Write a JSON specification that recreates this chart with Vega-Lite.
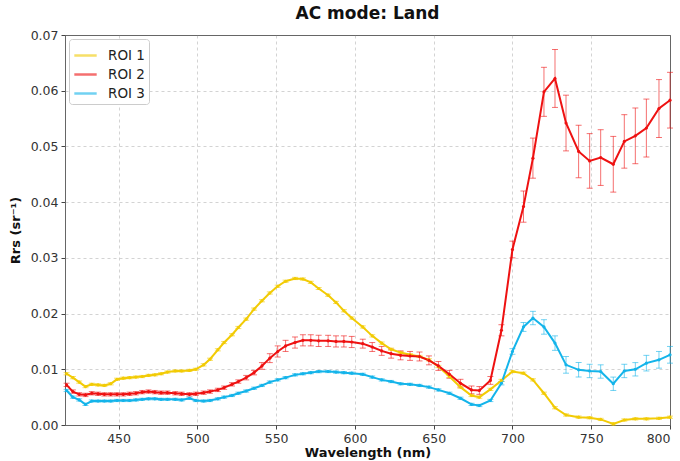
{
  "$schema": "https://vega.github.io/schema/vega-lite/v6.json",
  "width": 605,
  "height": 390,
  "autosize": {"type": "none"},
  "padding": {"left": 65, "top": 35, "right": 10, "bottom": 36},
  "background": "white",
  "config": {
    "font": "DejaVu Sans",
    "view": {"stroke": "#666666", "strokeWidth": 1},
    "axis": {"labelFont": "DejaVu Sans", "titleFont": "DejaVu Sans", "labelFontSize": 12.5, "labelColor": "#333333", "titleFontSize": 13, "titleFontWeight": "bold", "titleColor": "#111111", "grid": true, "gridWidth": 0.8, "domain": false, "tickColor": "#444444", "tickSize": 4, "labelPadding": 3}
  },
  "title": {"text": "AC mode: Land", "fontSize": 17, "fontWeight": "bold", "font": "DejaVu Sans", "color": "#111111", "anchor": "middle", "offset": 6},
  "data": {"values": [
{"roi":"ROI 1","wl":417,"v":0.0092,"e":0.0002},{"roi":"ROI 1","wl":421,"v":0.0085,"e":0.0002},{"roi":"ROI 1","wl":425,"v":0.0077,"e":0.0002},{"roi":"ROI 1","wl":429,"v":0.0069,"e":0.0002},{"roi":"ROI 1","wl":433,"v":0.0073,"e":0.0002},{"roi":"ROI 1","wl":437,"v":0.0072,"e":0.0002},{"roi":"ROI 1","wl":441,"v":0.0071,"e":0.0002},{"roi":"ROI 1","wl":445,"v":0.0074,"e":0.0002},{"roi":"ROI 1","wl":449,"v":0.0082,"e":0.0002},{"roi":"ROI 1","wl":453,"v":0.0084,"e":0.0002},{"roi":"ROI 1","wl":457,"v":0.0085,"e":0.0002},{"roi":"ROI 1","wl":461,"v":0.0086,"e":0.0002},{"roi":"ROI 1","wl":465,"v":0.0087,"e":0.0002},{"roi":"ROI 1","wl":469,"v":0.0089,"e":0.0002},{"roi":"ROI 1","wl":473,"v":0.0090,"e":0.0002},{"roi":"ROI 1","wl":477,"v":0.0092,"e":0.0002},{"roi":"ROI 1","wl":481,"v":0.0095,"e":0.0002},{"roi":"ROI 1","wl":486,"v":0.0097,"e":0.0002},{"roi":"ROI 1","wl":490,"v":0.0097,"e":0.0002},{"roi":"ROI 1","wl":495,"v":0.0098,"e":0.0002},{"roi":"ROI 1","wl":499,"v":0.0100,"e":0.0002},{"roi":"ROI 1","wl":504,"v":0.0108,"e":0.0002},{"roi":"ROI 1","wl":508,"v":0.0118,"e":0.0002},{"roi":"ROI 1","wl":513,"v":0.0135,"e":0.0002},{"roi":"ROI 1","wl":517,"v":0.0148,"e":0.0002},{"roi":"ROI 1","wl":522,"v":0.0162,"e":0.0002},{"roi":"ROI 1","wl":526,"v":0.0175,"e":0.0002},{"roi":"ROI 1","wl":531,"v":0.0190,"e":0.0002},{"roi":"ROI 1","wl":536,"v":0.0208,"e":0.0002},{"roi":"ROI 1","wl":541,"v":0.0223,"e":0.0002},{"roi":"ROI 1","wl":546,"v":0.0237,"e":0.0002},{"roi":"ROI 1","wl":551,"v":0.0249,"e":0.0002},{"roi":"ROI 1","wl":556,"v":0.0258,"e":0.0002},{"roi":"ROI 1","wl":562,"v":0.0263,"e":0.0002},{"roi":"ROI 1","wl":567,"v":0.0262,"e":0.0002},{"roi":"ROI 1","wl":572,"v":0.0256,"e":0.0002},{"roi":"ROI 1","wl":577,"v":0.0245,"e":0.0002},{"roi":"ROI 1","wl":583,"v":0.0233,"e":0.0002},{"roi":"ROI 1","wl":588,"v":0.0220,"e":0.0002},{"roi":"ROI 1","wl":593,"v":0.0205,"e":0.0002},{"roi":"ROI 1","wl":598,"v":0.0192,"e":0.0002},{"roi":"ROI 1","wl":605,"v":0.0176,"e":0.0002},{"roi":"ROI 1","wl":611,"v":0.0160,"e":0.0002},{"roi":"ROI 1","wl":617,"v":0.0147,"e":0.0002},{"roi":"ROI 1","wl":623,"v":0.0136,"e":0.0002},{"roi":"ROI 1","wl":629,"v":0.0130,"e":0.0002},{"roi":"ROI 1","wl":635,"v":0.0126,"e":0.0002},{"roi":"ROI 1","wl":641,"v":0.0123,"e":0.0002},{"roi":"ROI 1","wl":647,"v":0.0117,"e":0.0002},{"roi":"ROI 1","wl":653,"v":0.0105,"e":0.0002},{"roi":"ROI 1","wl":660,"v":0.0087,"e":0.0002},{"roi":"ROI 1","wl":667,"v":0.0068,"e":0.0002},{"roi":"ROI 1","wl":674,"v":0.0053,"e":0.0002},{"roi":"ROI 1","wl":679,"v":0.0050,"e":0.0002},{"roi":"ROI 1","wl":686,"v":0.0064,"e":0.0002},{"roi":"ROI 1","wl":693,"v":0.0080,"e":0.0002},{"roi":"ROI 1","wl":700,"v":0.0096,"e":0.0002},{"roi":"ROI 1","wl":707,"v":0.0093,"e":0.0002},{"roi":"ROI 1","wl":713,"v":0.0081,"e":0.0002},{"roi":"ROI 1","wl":720,"v":0.0057,"e":0.0002},{"roi":"ROI 1","wl":727,"v":0.0031,"e":0.0002},{"roi":"ROI 1","wl":734,"v":0.0018,"e":0.0002},{"roi":"ROI 1","wl":742,"v":0.0014,"e":0.0002},{"roi":"ROI 1","wl":749,"v":0.0013,"e":0.0002},{"roi":"ROI 1","wl":756,"v":0.0010,"e":0.0002},{"roi":"ROI 1","wl":764,"v":0.0002,"e":0.0002},{"roi":"ROI 1","wl":771,"v":0.0009,"e":0.0002},{"roi":"ROI 1","wl":778,"v":0.0011,"e":0.0002},{"roi":"ROI 1","wl":785,"v":0.0011,"e":0.0002},{"roi":"ROI 1","wl":793,"v":0.0012,"e":0.0002},{"roi":"ROI 1","wl":800,"v":0.0014,"e":0.0002},
{"roi":"ROI 2","wl":417,"v":0.0072,"e":0.0003},{"roi":"ROI 2","wl":421,"v":0.0060,"e":0.0003},{"roi":"ROI 2","wl":425,"v":0.0055,"e":0.0003},{"roi":"ROI 2","wl":429,"v":0.0054,"e":0.0003},{"roi":"ROI 2","wl":433,"v":0.0057,"e":0.0003},{"roi":"ROI 2","wl":437,"v":0.0056,"e":0.0003},{"roi":"ROI 2","wl":441,"v":0.0055,"e":0.0003},{"roi":"ROI 2","wl":445,"v":0.0055,"e":0.0003},{"roi":"ROI 2","wl":449,"v":0.0055,"e":0.0003},{"roi":"ROI 2","wl":453,"v":0.0055,"e":0.0003},{"roi":"ROI 2","wl":457,"v":0.0056,"e":0.0003},{"roi":"ROI 2","wl":461,"v":0.0057,"e":0.0003},{"roi":"ROI 2","wl":465,"v":0.0059,"e":0.0003},{"roi":"ROI 2","wl":469,"v":0.0060,"e":0.0003},{"roi":"ROI 2","wl":473,"v":0.0059,"e":0.0003},{"roi":"ROI 2","wl":477,"v":0.0058,"e":0.0003},{"roi":"ROI 2","wl":481,"v":0.0058,"e":0.0003},{"roi":"ROI 2","wl":486,"v":0.0057,"e":0.0003},{"roi":"ROI 2","wl":490,"v":0.0056,"e":0.0003},{"roi":"ROI 2","wl":495,"v":0.0055,"e":0.0003},{"roi":"ROI 2","wl":499,"v":0.0056,"e":0.0003},{"roi":"ROI 2","wl":504,"v":0.0058,"e":0.0003},{"roi":"ROI 2","wl":508,"v":0.0060,"e":0.0003},{"roi":"ROI 2","wl":513,"v":0.0063,"e":0.0003},{"roi":"ROI 2","wl":517,"v":0.0067,"e":0.0003},{"roi":"ROI 2","wl":522,"v":0.0073,"e":0.0003},{"roi":"ROI 2","wl":526,"v":0.0078,"e":0.0003},{"roi":"ROI 2","wl":531,"v":0.0085,"e":0.0004},{"roi":"ROI 2","wl":536,"v":0.0094,"e":0.0004},{"roi":"ROI 2","wl":541,"v":0.0106,"e":0.0006},{"roi":"ROI 2","wl":546,"v":0.0120,"e":0.0008},{"roi":"ROI 2","wl":551,"v":0.0132,"e":0.0010},{"roi":"ROI 2","wl":556,"v":0.0142,"e":0.0010},{"roi":"ROI 2","wl":562,"v":0.0148,"e":0.0010},{"roi":"ROI 2","wl":567,"v":0.0152,"e":0.0010},{"roi":"ROI 2","wl":572,"v":0.0152,"e":0.0010},{"roi":"ROI 2","wl":577,"v":0.0151,"e":0.0010},{"roi":"ROI 2","wl":583,"v":0.0151,"e":0.0010},{"roi":"ROI 2","wl":588,"v":0.0150,"e":0.0010},{"roi":"ROI 2","wl":593,"v":0.0150,"e":0.0010},{"roi":"ROI 2","wl":598,"v":0.0149,"e":0.0010},{"roi":"ROI 2","wl":605,"v":0.0146,"e":0.0008},{"roi":"ROI 2","wl":611,"v":0.0140,"e":0.0008},{"roi":"ROI 2","wl":617,"v":0.0133,"e":0.0008},{"roi":"ROI 2","wl":623,"v":0.0128,"e":0.0008},{"roi":"ROI 2","wl":629,"v":0.0125,"e":0.0008},{"roi":"ROI 2","wl":635,"v":0.0124,"e":0.0008},{"roi":"ROI 2","wl":641,"v":0.0123,"e":0.0008},{"roi":"ROI 2","wl":647,"v":0.0116,"e":0.0008},{"roi":"ROI 2","wl":653,"v":0.0106,"e":0.0008},{"roi":"ROI 2","wl":660,"v":0.0091,"e":0.0007},{"roi":"ROI 2","wl":667,"v":0.0075,"e":0.0007},{"roi":"ROI 2","wl":674,"v":0.0063,"e":0.0007},{"roi":"ROI 2","wl":679,"v":0.0062,"e":0.0007},{"roi":"ROI 2","wl":686,"v":0.0080,"e":0.0007},{"roi":"ROI 2","wl":693,"v":0.0170,"e":0.0010},{"roi":"ROI 2","wl":700,"v":0.0315,"e":0.0015},{"roi":"ROI 2","wl":707,"v":0.0392,"e":0.0028},{"roi":"ROI 2","wl":713,"v":0.0479,"e":0.0036},{"roi":"ROI 2","wl":720,"v":0.0598,"e":0.0044},{"roi":"ROI 2","wl":727,"v":0.0622,"e":0.0052},{"roi":"ROI 2","wl":734,"v":0.0542,"e":0.0050},{"roi":"ROI 2","wl":742,"v":0.0491,"e":0.0047},{"roi":"ROI 2","wl":749,"v":0.0474,"e":0.0049},{"roi":"ROI 2","wl":756,"v":0.0480,"e":0.0050},{"roi":"ROI 2","wl":764,"v":0.0468,"e":0.0050},{"roi":"ROI 2","wl":771,"v":0.0509,"e":0.0048},{"roi":"ROI 2","wl":778,"v":0.0519,"e":0.0050},{"roi":"ROI 2","wl":785,"v":0.0533,"e":0.0052},{"roi":"ROI 2","wl":793,"v":0.0568,"e":0.0052},{"roi":"ROI 2","wl":800,"v":0.0583,"e":0.0050},
{"roi":"ROI 3","wl":417,"v":0.0062,"e":0.0002},{"roi":"ROI 3","wl":421,"v":0.0050,"e":0.0002},{"roi":"ROI 3","wl":425,"v":0.0045,"e":0.0002},{"roi":"ROI 3","wl":429,"v":0.0037,"e":0.0002},{"roi":"ROI 3","wl":433,"v":0.0043,"e":0.0002},{"roi":"ROI 3","wl":437,"v":0.0043,"e":0.0002},{"roi":"ROI 3","wl":441,"v":0.0043,"e":0.0002},{"roi":"ROI 3","wl":445,"v":0.0043,"e":0.0002},{"roi":"ROI 3","wl":449,"v":0.0044,"e":0.0002},{"roi":"ROI 3","wl":453,"v":0.0044,"e":0.0002},{"roi":"ROI 3","wl":457,"v":0.0044,"e":0.0002},{"roi":"ROI 3","wl":461,"v":0.0045,"e":0.0002},{"roi":"ROI 3","wl":465,"v":0.0046,"e":0.0002},{"roi":"ROI 3","wl":469,"v":0.0047,"e":0.0002},{"roi":"ROI 3","wl":473,"v":0.0047,"e":0.0002},{"roi":"ROI 3","wl":477,"v":0.0046,"e":0.0002},{"roi":"ROI 3","wl":481,"v":0.0046,"e":0.0002},{"roi":"ROI 3","wl":486,"v":0.0046,"e":0.0002},{"roi":"ROI 3","wl":490,"v":0.0045,"e":0.0002},{"roi":"ROI 3","wl":495,"v":0.0048,"e":0.0002},{"roi":"ROI 3","wl":499,"v":0.0044,"e":0.0002},{"roi":"ROI 3","wl":504,"v":0.0043,"e":0.0002},{"roi":"ROI 3","wl":508,"v":0.0044,"e":0.0002},{"roi":"ROI 3","wl":513,"v":0.0047,"e":0.0002},{"roi":"ROI 3","wl":517,"v":0.0050,"e":0.0002},{"roi":"ROI 3","wl":522,"v":0.0053,"e":0.0002},{"roi":"ROI 3","wl":526,"v":0.0057,"e":0.0002},{"roi":"ROI 3","wl":531,"v":0.0061,"e":0.0002},{"roi":"ROI 3","wl":536,"v":0.0066,"e":0.0002},{"roi":"ROI 3","wl":541,"v":0.0071,"e":0.0002},{"roi":"ROI 3","wl":546,"v":0.0077,"e":0.0002},{"roi":"ROI 3","wl":551,"v":0.0081,"e":0.0002},{"roi":"ROI 3","wl":556,"v":0.0085,"e":0.0002},{"roi":"ROI 3","wl":562,"v":0.0090,"e":0.0002},{"roi":"ROI 3","wl":567,"v":0.0092,"e":0.0002},{"roi":"ROI 3","wl":572,"v":0.0094,"e":0.0002},{"roi":"ROI 3","wl":577,"v":0.0096,"e":0.0002},{"roi":"ROI 3","wl":583,"v":0.0096,"e":0.0002},{"roi":"ROI 3","wl":588,"v":0.0095,"e":0.0002},{"roi":"ROI 3","wl":593,"v":0.0094,"e":0.0002},{"roi":"ROI 3","wl":598,"v":0.0093,"e":0.0002},{"roi":"ROI 3","wl":605,"v":0.0091,"e":0.0002},{"roi":"ROI 3","wl":611,"v":0.0086,"e":0.0002},{"roi":"ROI 3","wl":617,"v":0.0081,"e":0.0002},{"roi":"ROI 3","wl":623,"v":0.0078,"e":0.0002},{"roi":"ROI 3","wl":629,"v":0.0074,"e":0.0002},{"roi":"ROI 3","wl":635,"v":0.0073,"e":0.0002},{"roi":"ROI 3","wl":641,"v":0.0071,"e":0.0002},{"roi":"ROI 3","wl":647,"v":0.0068,"e":0.0002},{"roi":"ROI 3","wl":653,"v":0.0063,"e":0.0002},{"roi":"ROI 3","wl":660,"v":0.0057,"e":0.0002},{"roi":"ROI 3","wl":667,"v":0.0048,"e":0.0002},{"roi":"ROI 3","wl":674,"v":0.0037,"e":0.0002},{"roi":"ROI 3","wl":679,"v":0.0035,"e":0.0002},{"roi":"ROI 3","wl":686,"v":0.0044,"e":0.0002},{"roi":"ROI 3","wl":693,"v":0.0075,"e":0.0003},{"roi":"ROI 3","wl":700,"v":0.0132,"e":0.0005},{"roi":"ROI 3","wl":707,"v":0.0176,"e":0.0008},{"roi":"ROI 3","wl":713,"v":0.0192,"e":0.0012},{"roi":"ROI 3","wl":720,"v":0.0176,"e":0.0013},{"roi":"ROI 3","wl":727,"v":0.0147,"e":0.0013},{"roi":"ROI 3","wl":734,"v":0.0108,"e":0.0015},{"roi":"ROI 3","wl":742,"v":0.0099,"e":0.0013},{"roi":"ROI 3","wl":749,"v":0.0097,"e":0.0012},{"roi":"ROI 3","wl":756,"v":0.0096,"e":0.0012},{"roi":"ROI 3","wl":764,"v":0.0074,"e":0.0012},{"roi":"ROI 3","wl":771,"v":0.0097,"e":0.0012},{"roi":"ROI 3","wl":778,"v":0.0100,"e":0.0012},{"roi":"ROI 3","wl":785,"v":0.0111,"e":0.0014},{"roi":"ROI 3","wl":793,"v":0.0117,"e":0.0015},{"roi":"ROI 3","wl":800,"v":0.0126,"e":0.0015}
  ]},
  "encoding": {
    "x": {"field": "wl", "type": "quantitative", "scale": {"domain": [416, 800], "nice": false, "zero": false}, "axis": {"title": "Wavelength (nm)", "values": [450, 500, 550, 600, 650, 700, 750, 800], "titlePadding": 2, "gridColor": {"condition": {"test": "datum.value >= 800", "value": "#666666"}, "value": "#c8c8c8"}, "gridDash": {"condition": {"test": "datum.value >= 800", "value": []}, "value": [3, 3]}}},
    "color": {"field": "roi", "type": "nominal", "scale": {"domain": ["ROI 1", "ROI 2", "ROI 3"], "range": ["#f2cb05", "#ee1111", "#14b4ea"]}, "legend": {"title": null, "orient": "none", "legendX": 4, "legendY": 4, "symbolType": "stroke", "symbolStrokeWidth": 2.5, "symbolSize": 500, "labelFontSize": 13.5, "labelColor": "#222222", "labelFont": "DejaVu Sans", "rowPadding": 0, "padding": 4, "strokeColor": "#cccccc", "fillColor": "white", "cornerRadius": 3, "labelOffset": 10}}
  },
  "layer": [
    {
      "mark": {"type": "errorbar", "ticks": {"size": 6}, "thickness": 1, "opacity": 0.6},
      "encoding": {
        "y": {"field": "v", "type": "quantitative", "scale": {"domain": [0, 0.07], "nice": false}, "axis": {"title": "Rrs (sr⁻¹)", "values": [0, 0.01, 0.02, 0.03, 0.04, 0.05, 0.06, 0.07], "format": ".2f", "titlePadding": 8, "gridColor": {"condition": {"test": "datum.value <= 0 || datum.value >= 0.07", "value": "#666666"}, "value": "#c8c8c8"}, "gridDash": {"condition": {"test": "datum.value <= 0 || datum.value >= 0.07", "value": []}, "value": [3, 3]}}},
        "yError": {"field": "e"}
      }
    },
    {
      "mark": {"type": "line", "strokeWidth": 2, "point": {"filled": true, "size": 10}},
      "encoding": {
        "y": {"field": "v", "type": "quantitative"}
      }
    }
  ]
}
